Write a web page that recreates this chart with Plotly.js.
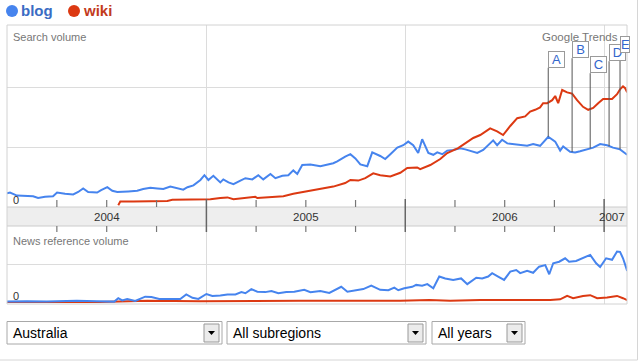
<!DOCTYPE html>
<html><head><meta charset="utf-8">
<script src="https://cdn.plot.ly/plotly-3.0.1.min.js"></script>
<style>html,body{margin:0;padding:0;background:#fff;}#chart{width:640px;height:362px;}</style>
</head><body><div id="chart"></div>
<script>
// ---------------- data (decimal years, relative volume) ----------------
const seriesNames = ['blog', 'wiki'];
const blogSearchT = [2004.000,2004.015,2004.050,2004.131,2004.156,2004.191,2004.231,2004.251,2004.291,2004.332,2004.357,2004.382,2004.407,2004.432,2004.452,2004.472,2004.503,2004.528,2004.553,2004.608,2004.653,2004.683,2004.719,2004.754,2004.784,2004.819,2004.854,2004.884,2004.905,2004.935,2004.970,2004.990,2005.010,2005.035,2005.070,2005.085,2005.111,2005.136,2005.171,2005.196,2005.231,2005.261,2005.286,2005.322,2005.347,2005.382,2005.412,2005.437,2005.457,2005.482,2005.523,2005.573,2005.638,2005.658,2005.698,2005.724,2005.749,2005.774,2005.809,2005.834,2005.874,2005.899,2005.925,2005.960,2005.990,2006.015,2006.040,2006.065,2006.085,2006.116,2006.141,2006.161,2006.186,2006.211,2006.241,2006.276,2006.302,2006.327,2006.362,2006.392,2006.412,2006.442,2006.462,2006.487,2006.513,2006.543,2006.578,2006.613,2006.643,2006.678,2006.719,2006.754,2006.779,2006.794,2006.829,2006.854,2006.879,2006.915,2006.945,2006.980,2007.015,2007.045,2007.080,2007.116];
const blogSearchV = [0.23,0.24,0.19,0.18,0.15,0.17,0.18,0.24,0.22,0.21,0.25,0.31,0.25,0.25,0.24,0.28,0.33,0.27,0.25,0.26,0.27,0.30,0.32,0.31,0.30,0.34,0.31,0.29,0.33,0.36,0.45,0.53,0.45,0.52,0.41,0.46,0.41,0.38,0.44,0.48,0.46,0.53,0.46,0.55,0.48,0.52,0.53,0.61,0.55,0.70,0.71,0.68,0.73,0.76,0.84,0.88,0.81,0.71,0.68,0.91,0.85,0.80,0.88,0.99,1.03,1.09,1.03,0.90,1.13,0.90,0.87,0.91,0.88,0.94,0.95,0.98,0.96,0.94,0.90,0.95,1.01,1.11,1.03,1.12,1.06,1.05,1.03,1.02,1.05,1.02,1.17,1.09,0.94,1.01,0.92,0.91,0.93,0.96,0.99,1.05,1.03,0.99,0.96,0.87];
const wikiSearchT = [2004.558,2004.568,2004.633,2004.719,2004.804,2004.829,2004.884,2004.970,2005.020,2005.070,2005.106,2005.136,2005.186,2005.246,2005.256,2005.322,2005.387,2005.437,2005.472,2005.508,2005.573,2005.638,2005.698,2005.724,2005.764,2005.799,2005.839,2005.874,2005.925,2005.975,2006.010,2006.060,2006.075,2006.126,2006.176,2006.211,2006.266,2006.312,2006.342,2006.377,2006.412,2006.427,2006.462,2006.492,2006.528,2006.563,2006.603,2006.628,2006.653,2006.678,2006.693,2006.714,2006.739,2006.754,2006.769,2006.789,2006.814,2006.839,2006.864,2006.894,2006.920,2006.945,2006.970,2006.995,2007.020,2007.040,2007.065,2007.080,2007.095,2007.106,2007.116];
const wikiSearchV = [0.03,0.09,0.09,0.10,0.10,0.12,0.12,0.13,0.13,0.15,0.16,0.13,0.15,0.17,0.15,0.17,0.18,0.22,0.24,0.26,0.30,0.34,0.40,0.45,0.44,0.48,0.56,0.53,0.51,0.57,0.65,0.66,0.63,0.70,0.80,0.90,0.98,1.09,1.15,1.20,1.27,1.31,1.26,1.20,1.35,1.48,1.51,1.59,1.62,1.66,1.73,1.73,1.78,1.85,1.73,1.95,1.91,1.89,1.78,1.67,1.62,1.65,1.73,1.80,1.80,1.80,1.88,1.96,2.01,1.98,1.91];
const blogNewsT = [2004.000,2004.100,2004.200,2004.350,2004.450,2004.538,2004.558,2004.578,2004.603,2004.643,2004.693,2004.724,2004.764,2004.824,2004.869,2004.899,2004.930,2004.960,2005.000,2005.030,2005.070,2005.106,2005.146,2005.176,2005.196,2005.226,2005.256,2005.296,2005.327,2005.362,2005.402,2005.442,2005.492,2005.523,2005.573,2005.618,2005.648,2005.678,2005.709,2005.749,2005.789,2005.829,2005.874,2005.915,2005.945,2005.965,2005.995,2006.035,2006.055,2006.085,2006.111,2006.141,2006.171,2006.201,2006.241,2006.281,2006.312,2006.357,2006.387,2006.417,2006.437,2006.467,2006.497,2006.528,2006.558,2006.578,2006.613,2006.643,2006.673,2006.704,2006.724,2006.744,2006.774,2006.804,2006.824,2006.859,2006.889,2006.930,2006.960,2006.980,2007.010,2007.040,2007.065,2007.080,2007.095,2007.116];
const blogNewsV = [0.01,0.02,0.01,0.03,0.02,0.01,0.10,0.04,0.08,0.03,0.14,0.13,0.08,0.08,0.08,0.20,0.11,0.08,0.21,0.16,0.17,0.20,0.20,0.26,0.23,0.34,0.27,0.26,0.29,0.23,0.26,0.27,0.32,0.26,0.29,0.24,0.32,0.40,0.27,0.31,0.34,0.43,0.32,0.31,0.38,0.31,0.36,0.40,0.45,0.43,0.47,0.36,0.67,0.62,0.58,0.62,0.47,0.64,0.62,0.67,0.76,0.67,0.58,0.80,0.84,0.76,0.82,0.77,0.93,0.97,0.73,1.02,1.06,1.15,1.06,1.08,1.15,1.24,1.02,0.92,1.15,1.11,1.33,1.32,1.15,0.82];
const wikiNewsT = [2004.000,2004.467,2004.704,2004.970,2005.472,2005.975,2006.121,2006.226,2006.377,2006.578,2006.729,2006.779,2006.814,2006.844,2006.894,2006.930,2006.965,2007.015,2007.065,2007.095,2007.116];
const wikiNewsV = [0.00,0.00,0.03,0.02,0.03,0.03,0.05,0.03,0.05,0.04,0.05,0.07,0.16,0.10,0.16,0.18,0.10,0.12,0.16,0.10,0.05];

const yearLabels = ['2004', '2005', '2006', '2007'];
const yearLabelT = [2004.5, 2005.5, 2006.5, 2007.04];
const yearTickT = [2005, 2006, 2007];
const quarterTickT = [2004.25, 2004.5, 2004.75, 2005.25, 2005.5, 2005.75, 2006.25, 2006.5, 2006.75];
const eventLabels = ['A', 'B', 'C', 'D', 'E'];
const eventT = [2006.719, 2006.839, 2006.930, 2007.025, 2007.080];
const dropdownLabels = ['Australia', 'All subregions', 'All years'];

// ---------------- helpers ----------------
function toDate(t) {
  const y = Math.floor(t + 1e-9), f = t - y;
  const a = Date.UTC(y, 0, 1), b = Date.UTC(y + 1, 0, 1);
  return new Date(a + f * (b - a)).toISOString().slice(0, 19).replace('T', ' ');
}
function interp(ts, vs, t) {
  for (let i = 1; i < ts.length; i++) {
    if (t <= ts[i]) { const r = (t - ts[i-1]) / (ts[i] - ts[i-1]); return vs[i-1] + r * (vs[i] - vs[i-1]); }
  }
  return vs[vs.length - 1];
}
const L = 7, R = 627, T = 25, B = 304;
const px = x => (x - L) / (R - L);
const py = y => (B - y) / (B - T);

const FONT = 'Liberation Sans, Arial, sans-serif';
const BLUE = '#4684ee', RED = '#dc3912';

const traces = [
  {x: blogSearchT.map(toDate), y: blogSearchV, xaxis: 'x', yaxis: 'y', name: seriesNames[0], mode: 'lines', line: {color: BLUE, width: 2}},
  {x: wikiSearchT.map(toDate), y: wikiSearchV, xaxis: 'x', yaxis: 'y', name: seriesNames[1], mode: 'lines', line: {color: RED, width: 2}},
  {x: wikiNewsT.map(toDate), y: wikiNewsV, xaxis: 'x', yaxis: 'y2', name: seriesNames[1], mode: 'lines', line: {color: RED, width: 2}},
  {x: blogNewsT.map(toDate), y: blogNewsV, xaxis: 'x', yaxis: 'y2', name: seriesNames[0], mode: 'lines', line: {color: BLUE, width: 2}}
];

const shapes = [];
const annotations = [];
// band between panels
shapes.push({type: 'rect', xref: 'paper', yref: 'paper', x0: 0, x1: 1, y0: py(226), y1: py(207), fillcolor: '#eeeeee', line: {width: 0}, layer: 'below'});
shapes.push({type: 'line', xref: 'paper', yref: 'paper', x0: 0, x1: 1, y0: py(207), y1: py(207), line: {color: '#cccccc', width: 1}, layer: 'below'});
shapes.push({type: 'line', xref: 'paper', yref: 'paper', x0: 0, x1: 1, y0: py(226), y1: py(226), line: {color: '#cccccc', width: 1}, layer: 'below'});
// frame
shapes.push({type: 'rect', xref: 'paper', yref: 'paper', x0: 0, x1: 1, y0: 0, y1: 1, line: {color: '#d2d2d2', width: 1}, fillcolor: 'rgba(0,0,0,0)', layer: 'above'});
// page borders
shapes.push({type: 'line', xref: 'paper', yref: 'paper', x0: px(637.5), x1: px(637.5), y0: py(0), y1: py(360), line: {color: '#d6d6d6', width: 1}});
shapes.push({type: 'line', xref: 'paper', yref: 'paper', x0: px(0), x1: px(637.5), y0: py(360), y1: py(360), line: {color: '#d6d6d6', width: 1}});
// ticks
yearTickT.forEach(t => shapes.push({type: 'line', xref: 'x', yref: 'paper', x0: toDate(t), x1: toDate(t), y0: py(199), y1: py(232), line: {color: '#666666', width: 1.5}, layer: 'above'}));
quarterTickT.forEach(t => {
  shapes.push({type: 'line', xref: 'x', yref: 'paper', x0: toDate(t), x1: toDate(t), y0: py(200), y1: py(207), line: {color: '#777777', width: 1.2}, layer: 'above'});
  shapes.push({type: 'line', xref: 'x', yref: 'paper', x0: toDate(t), x1: toDate(t), y0: py(226), y1: py(232), line: {color: '#777777', width: 1.2}, layer: 'above'});
});
yearLabels.forEach((s, i) => annotations.push({xref: 'x', yref: 'paper', x: toDate(yearLabelT[i]), y: py(216.5), text: s, showarrow: false, xanchor: 'center', yanchor: 'middle', font: {family: FONT, size: 11.5, color: '#333333'}}));

// event markers
const eventBoxBottom = [2.32, 2.48, 2.23, 2.43, 2.57];
eventLabels.forEach((s, i) => {
  const d = toDate(eventT[i]);
  shapes.push({type: 'line', xref: 'x', yref: 'y', x0: d, x1: d, y0: interp(blogSearchT, blogSearchV, eventT[i]), y1: eventBoxBottom[i], line: {color: '#555555', width: 1}, layer: 'above'});
});
eventLabels.forEach((s, i) => {
  annotations.push({xref: 'x', yref: 'y', x: toDate(eventT[i]), y: eventBoxBottom[i], text: s, showarrow: false, xanchor: 'left', yanchor: 'bottom',
    font: {family: FONT, size: 13, color: '#3366cc'}, bgcolor: '#ffffff', bordercolor: '#9a9a9a', borderwidth: 1, borderpad: 0,
    width: i === 4 ? 8 : 15, height: 15, align: i === 4 ? 'left' : 'center', valign: 'middle'});
});

// texts
annotations.push({xref: 'paper', yref: 'paper', x: px(11), y: py(37), text: 'Search volume', showarrow: false, xanchor: 'left', yanchor: 'middle', font: {family: FONT, size: 11, color: '#777777'}});
annotations.push({xref: 'paper', yref: 'paper', x: px(620), y: py(37), text: 'Google Trends', showarrow: false, xanchor: 'right', yanchor: 'middle', font: {family: FONT, size: 11.5, color: '#777777'}});
annotations.push({xref: 'paper', yref: 'paper', x: px(11), y: py(241), text: 'News reference volume', showarrow: false, xanchor: 'left', yanchor: 'middle', font: {family: FONT, size: 11, color: '#777777'}});
annotations.push({xref: 'paper', yref: 'paper', x: px(11), y: py(200), text: '0', showarrow: false, xanchor: 'left', yanchor: 'middle', font: {family: FONT, size: 11, color: '#333333'}});
annotations.push({xref: 'paper', yref: 'paper', x: px(11), y: py(296), text: '0', showarrow: false, xanchor: 'left', yanchor: 'middle', font: {family: FONT, size: 11, color: '#333333'}});

// legend
const legendCircleX = [12, 74];
const legendColors = [BLUE, RED];
const legendTextColors = ['#3a6cc4', '#c23a1c'];
seriesNames.forEach((s, i) => {
  const cx = legendCircleX[i];
  shapes.push({type: 'circle', xref: 'paper', yref: 'paper', x0: px(cx - 6), x1: px(cx + 6), y0: py(17), y1: py(5), fillcolor: legendColors[i], line: {width: 0}});
  annotations.push({xref: 'paper', yref: 'paper', x: px(cx + 7), y: py(11), text: '<b>' + s + '</b>', showarrow: false, xanchor: 'left', yanchor: 'middle', font: {family: FONT, size: 15, color: legendTextColors[i]}});
});

// dropdowns
const ddBoxes = [[7, 222], [227, 426], [432, 525]];
ddBoxes.forEach((bx, i) => {
  const [x0, x1] = bx;
  shapes.push({type: 'rect', xref: 'paper', yref: 'paper', x0: px(x0), x1: px(x1), y0: py(344), y1: py(321.5), fillcolor: '#ffffff', line: {color: '#a8a8a8', width: 1}});
  const b0 = x1 - 18, b1 = x1 - 3;
  shapes.push({type: 'rect', xref: 'paper', yref: 'paper', x0: px(b0), x1: px(b1), y0: py(342), y1: py(324), fillcolor: '#ebebeb', line: {color: '#999999', width: 1}});
  const cx = (b0 + b1) / 2;
  shapes.push({type: 'path', xref: 'paper', yref: 'paper', path: 'M ' + px(cx - 3.5) + ' ' + py(331) + ' L ' + px(cx + 3.5) + ' ' + py(331) + ' L ' + px(cx) + ' ' + py(335) + ' Z', fillcolor: '#000000', line: {width: 0}});
  annotations.push({xref: 'paper', yref: 'paper', x: px(x0 + 4), y: py(333), text: dropdownLabels[i], showarrow: false, xanchor: 'left', yanchor: 'middle', font: {family: FONT, size: 14, color: '#000000'}});
});

const layout = {
  width: 640, height: 362,
  margin: {l: L, r: 640 - R, t: T, b: 362 - B, pad: 0},
  paper_bgcolor: '#ffffff', plot_bgcolor: '#ffffff',
  showlegend: false,
  font: {family: FONT},
  xaxis: {type: 'date', range: [toDate(2004), '2007-02-12'], anchor: 'y2',
    tickvals: yearTickT.map(toDate), showticklabels: false, ticks: '', showgrid: true, gridcolor: '#dcdcdc', gridwidth: 1, zeroline: false, showline: false},
  yaxis: {domain: [py(207), 1], range: [0, 182 / 60], anchor: 'x', tickvals: [1, 2], showticklabels: false, ticks: '', gridcolor: '#dcdcdc', zeroline: false, showline: false},
  yaxis2: {domain: [0, py(226)], range: [-2 / 38, 76 / 38], anchor: 'x', tickvals: [1], showticklabels: false, ticks: '', gridcolor: '#dcdcdc', zeroline: false, showline: false},
  shapes: shapes,
  annotations: annotations
};

Plotly.newPlot('chart', traces, layout, {staticPlot: true, displayModeBar: false});
</script>
</body></html>
